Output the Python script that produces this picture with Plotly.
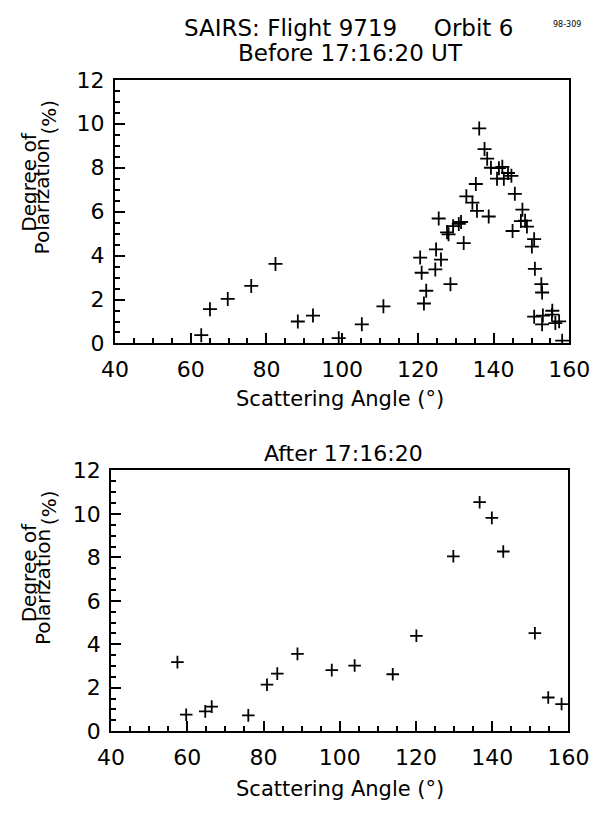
import plotly.graph_objects as go

# Degree of polarization vs scattering angle, SAIRS flight 9719, orbit 6
before_angle = [62.8, 65.1, 69.8, 76.0, 82.4, 88.3, 92.3, 99.1, 105.2, 110.9,
                120.6, 121.0, 121.6, 122.2, 124.6, 124.8, 125.5, 126.1, 127.7, 128.1,
                128.6, 129.3, 130.8, 131.4, 132.1, 132.8, 134.4, 135.3, 135.6, 136.2,
                137.6, 138.3, 138.7, 139.3, 140.9, 141.4, 142.3, 142.7, 143.8, 144.7,
                145.0, 145.6, 147.2, 147.6, 148.3, 148.8, 150.1, 150.7, 150.7, 150.9,
                152.6, 152.8, 152.8, 153.0, 155.4, 155.5, 156.3, 157.3, 158.1]
before_pol = [0.38, 1.56, 2.03, 2.62, 3.62, 1.00, 1.27, 0.24, 0.87, 1.69,
              3.91, 3.22, 1.82, 2.40, 3.37, 4.28, 5.69, 3.82, 5.06, 4.97,
              2.70, 5.34, 5.44, 5.53, 4.57, 6.70, 6.41, 7.26, 6.04, 9.79,
              8.85, 8.41, 5.78, 8.00, 7.50, 7.98, 8.04, 7.50, 7.76, 7.63,
              5.12, 6.81, 5.57, 6.09, 5.59, 5.32, 4.41, 4.75, 1.22, 3.40,
              2.70, 2.32, 0.87, 1.27, 1.31, 1.49, 0.93, 1.01, 0.13]

after_angle = [57.4, 59.7, 64.7, 66.4, 76.0, 80.9, 83.6, 88.9, 97.9, 103.9,
               113.9, 120.1, 129.8, 136.7, 139.9, 142.9, 151.2, 154.7, 158.2]
after_pol = [3.18, 0.76, 0.91, 1.13, 0.73, 2.14, 2.65, 3.56, 2.81, 3.02,
             2.62, 4.39, 8.05, 10.54, 9.82, 8.27, 4.51, 1.55, 1.25]

x_ticks = [40, 60, 80, 100, 120, 140, 160]
y_ticks = [0, 2, 4, 6, 8, 10, 12]

W, H = 613, 813
FONT = "DejaVu Sans"


def px(x):
    return x / W


def py(y):
    return 1 - y / H


fig = go.Figure()
fig.add_trace(go.Scatter(
    x=before_angle, y=before_pol, mode="markers", xaxis="x", yaxis="y",
    marker=dict(symbol="cross-thin", size=10, line=dict(width=1.8, color="black"), color="black"),
    showlegend=False))
fig.add_trace(go.Scatter(
    x=after_angle, y=after_pol, mode="markers", xaxis="x2", yaxis="y2",
    marker=dict(symbol="cross-thin", size=9, line=dict(width=1.8, color="black"), color="black"),
    showlegend=False))

tick_style = dict(ticks="inside", ticklen=10, tickwidth=1.5, tickcolor="black",
                  showgrid=False, zeroline=False)
axis_common = dict(
    tick_style, showline=True, linecolor="black", linewidth=2, mirror=True,
    tickfont=dict(family=FONT, size=22, color="black"),
)
x_minor = dict(ticks="inside", ticklen=5, dtick=5, tickwidth=1.5, tickcolor="black", showgrid=False)
y_minor = dict(ticks="inside", ticklen=5, dtick=0.5, tickwidth=1.5, tickcolor="black", showgrid=False)

xa = dict(axis_common, range=[40, 160], tickvals=x_ticks, minor=x_minor, ticklabelstandoff=5)
ya = dict(axis_common, range=[0, 12], tickvals=y_ticks, minor=y_minor, ticklabelstandoff=4)

# tick marks along the opposite edges of each box
x_top = dict(tick_style, range=[40, 160], tickvals=x_ticks, minor=x_minor,
             showticklabels=False, side="top", showline=False)
y_right = dict(tick_style, range=[0, 12], tickvals=y_ticks, minor=y_minor,
               showticklabels=False, side="right", showline=False)

x1_dom = [px(107), px(589)]
y1_dom = [py(342), py(70)]
x2_dom = [px(103), px(588)]
y2_dom = [py(742), py(473)]

fig.update_layout(
    width=W, height=H,
    margin=dict(l=0, r=0, t=0, b=0),
    paper_bgcolor="white", plot_bgcolor="white",
    xaxis=dict(xa, domain=x1_dom, anchor="y"),
    yaxis=dict(ya, domain=y1_dom, anchor="x"),
    xaxis2=dict(xa, domain=x2_dom, anchor="y2"),
    yaxis2=dict(ya, domain=y2_dom, anchor="x2"),
    xaxis3=dict(x_top, domain=x1_dom, overlaying="x", anchor="y"),
    yaxis3=dict(y_right, domain=y1_dom, overlaying="y", anchor="x"),
    xaxis4=dict(x_top, domain=x2_dom, overlaying="x2", anchor="y2"),
    yaxis4=dict(y_right, domain=y2_dom, overlaying="y2", anchor="x2"),
)


def label(text, x, y, size=22, angle=0):
    fig.add_annotation(text=text, x=px(x), y=py(y), xref="paper", yref="paper",
                       showarrow=False, xanchor="center", yanchor="middle",
                       textangle=angle, font=dict(family=FONT, size=size, color="black"))


nb = "\u00a0"
label(f"SAIRS: Flight 9719{nb*5}Orbit 6", 355, 17, size=23)
label("Before 17:16:20 UT", 357, 42, size=23)
label("After 17:16:20", 349, 455, size=22)
label("Scattering Angle (°)", 346, 399, size=21)
label("Scattering Angle (°)", 346, 802, size=21)
label("98-309", 586, 13, size=8)

# two-line y-axis titles, one per panel
for top in (70, 473):
    label("Degree of", 16, top + 106, size=20, angle=-90)
    label("Polarization", 30, top + 120, size=20, angle=-90)
    label("(%)", 37, top + 38, size=20, angle=-90)

fig.write_html("out.html")
